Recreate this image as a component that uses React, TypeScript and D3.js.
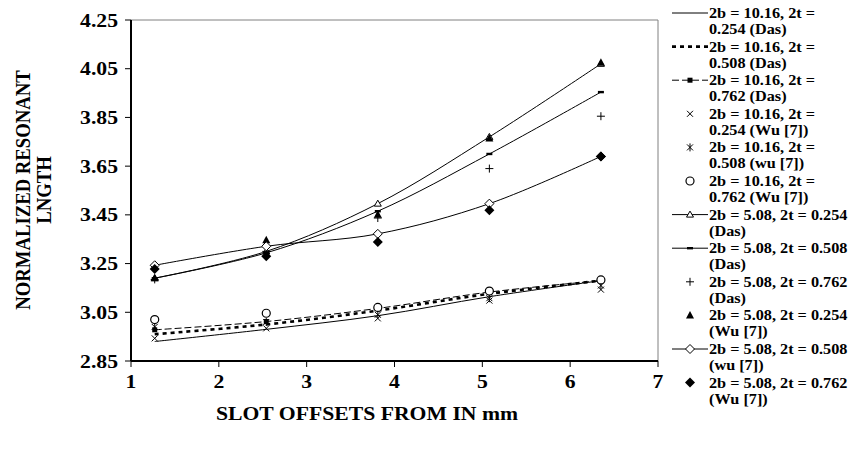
import React from "react";
import * as d3 from "d3";

// slot offsets (mm)
const slotOffsets = [1.27, 2.54, 3.81, 5.08, 6.35];

// 2b = 10.16
const w10t254Das = [2.93, 2.98, 3.036, 3.114, 3.18];
const w10t508Das = [2.96, 3.0, 3.057, 3.126, 3.18];
const w10t762Das = [2.978, 3.012, 3.066, 3.133, 3.18];
const w10t254Wu = [2.943, 2.984, 3.025, 3.098, 3.143];
const w10t508Wu = [2.99, 3.01, 3.04, 3.108, 3.16];
const w10t762Wu = [3.02, 3.046, 3.07, 3.137, 3.183];

// 2b = 5.08
const w5t254Das = [3.19, 3.3, 3.496, 3.77, 4.07];
const w5t508Das = [3.19, 3.294, 3.465, 3.7, 3.954];
const w5t762Das = [3.185, 3.3, 3.437, 3.64, 3.855];
const w5t254Wu = [3.19, 3.346, 3.45, 3.763, 4.074];
const w5t508Wu = [3.243, 3.321, 3.372, 3.496, 3.69];
const w5t762Wu = [3.228, 3.28, 3.339, 3.469, 3.69];

const yTickLabels = ["2.85", "3.05", "3.25", "3.45", "3.65", "3.85", "4.05", "4.25"];
const xTickLabels = ["1", "2", "3", "4", "5", "6", "7"];

const legendTop = [
  "2b = 10.16, 2t =", "2b = 10.16, 2t =", "2b = 10.16, 2t =",
  "2b = 10.16, 2t =", "2b = 10.16, 2t =", "2b = 10.16, 2t =",
  "2b = 5.08, 2t = 0.254", "2b = 5.08, 2t = 0.508", "2b = 5.08, 2t = 0.762",
  "2b = 5.08, 2t = 0.254", "2b = 5.08, 2t = 0.508", "2b = 5.08, 2t = 0.762",
];
const legendBottom = [
  "0.254 (Das)", "0.508 (Das)", "0.762 (Das)",
  "0.254 (Wu [7])", "0.508 (wu [7])", "0.762 (Wu [7])",
  "(Das)", "(Das)", "(Das)", "(Wu [7])", "(wu [7])", "(Wu [7])",
];

type Series = { values: number[]; line: string | null; marker: string };

const series: Series[] = [
  { values: w10t254Das, line: "solid", marker: "none" },
  { values: w10t508Das, line: "dots", marker: "none" },
  { values: w10t762Das, line: "dash", marker: "square" },
  { values: w10t254Wu, line: null, marker: "x" },
  { values: w10t508Wu, line: null, marker: "star" },
  { values: w10t762Wu, line: null, marker: "circle" },
  { values: w5t254Das, line: "solid", marker: "triOpen" },
  { values: w5t508Das, line: "solid", marker: "bar" },
  { values: w5t762Das, line: null, marker: "plus" },
  { values: w5t254Wu, line: null, marker: "triFilled" },
  { values: w5t508Wu, line: "solid", marker: "diaOpen" },
  { values: w5t762Wu, line: null, marker: "diaFilled" },
];

const FONT = "'Liberation Serif', 'Times New Roman', serif";
// the original picture is a little wider than tall, text included
const SX = 1.16;

function SText(props: {
  x: number;
  y: number;
  size: number;
  anchor?: string;
  rotate?: number;
  children: React.ReactNode;
}) {
  const { x, y, size, anchor, rotate, children } = props;
  return (
    <text
      transform={`translate(${x},${y}) scale(${SX},1)${rotate ? ` rotate(${rotate})` : ""}`}
      textAnchor={anchor || "start"}
      fontFamily={FONT}
      fontWeight="bold"
      fontSize={size}
      fill="#000"
    >
      {children}
    </text>
  );
}

function Marker({ kind, x, y }: { kind: string; x: number; y: number }) {
  const k = "#000";
  switch (kind) {
    case "square":
      return <rect x={x - 2.5} y={y - 2.5} width={5} height={5} fill={k} />;
    case "x":
      return (
        <path d={`M${x - 3},${y - 3}L${x + 3},${y + 3}M${x - 3},${y + 3}L${x + 3},${y - 3}`} stroke={k} strokeWidth={1} />
      );
    case "star":
      return (
        <path
          d={`M${x - 3},${y - 3}L${x + 3},${y + 3}M${x - 3},${y + 3}L${x + 3},${y - 3}M${x},${y - 4}L${x},${y + 4}`}
          stroke={k}
          strokeWidth={1}
        />
      );
    case "circle":
      return <circle cx={x} cy={y} r={4} fill="#fff" stroke={k} strokeWidth={1.2} />;
    case "triOpen":
      return <path d={`M${x},${y - 3.5}L${x + 3.5},${y + 2.5}L${x - 3.5},${y + 2.5}Z`} fill="#fff" stroke={k} strokeWidth={1} />;
    case "bar":
      return <rect x={x - 3} y={y - 1.2} width={6} height={2.4} fill={k} />;
    case "plus":
      return <path d={`M${x - 4},${y}L${x + 4},${y}M${x},${y - 4}L${x},${y + 4}`} stroke={k} strokeWidth={1} />;
    case "triFilled":
      return <path d={`M${x},${y - 4.5}L${x + 4},${y + 3}L${x - 4},${y + 3}Z`} fill={k} />;
    case "diaOpen":
      return <path d={`M${x},${y - 4.5}L${x + 4.5},${y}L${x},${y + 4.5}L${x - 4.5},${y}Z`} fill="#fff" stroke={k} strokeWidth={1} />;
    case "diaFilled":
      return <path d={`M${x},${y - 5}L${x + 5},${y}L${x},${y + 5}L${x - 5},${y}Z`} fill={k} />;
    default:
      return null;
  }
}

function lineStyle(kind: string | null) {
  if (kind === "dots") return { strokeWidth: 2.6, strokeDasharray: "4,4" };
  if (kind === "dash") return { strokeWidth: 1, strokeDasharray: "7,3" };
  return { strokeWidth: 1, strokeDasharray: undefined };
}

export default function App() {
  const margin = { top: 20, left: 131, right: 658, bottom: 361 };

  const x = d3.scaleLinear().domain([1, 7]).range([margin.left, margin.right]);
  const y = d3.scaleLinear().domain([2.85, 4.25]).range([margin.bottom, margin.top]);

  const line = d3
    .line<number>()
    .x((d, i) => x(slotOffsets[i]))
    .y((d) => y(d))
    .curve(d3.curveCatmullRom.alpha(0.5));

  const legX = 672;
  const legTextX = 709;

  return (
    <svg width={848} height={461} style={{ position: "absolute", left: 0, top: 0, background: "#fff" }}>
      {/* plot area border (top / right) */}
      <path
        d={`M${margin.left},${margin.top}L${margin.right},${margin.top}L${margin.right},${margin.bottom}`}
        fill="none"
        stroke="#808080"
        strokeWidth={1}
      />

      {/* y axis */}
      <line x1={margin.left} x2={margin.left} y1={margin.top} y2={margin.bottom} stroke="#000" strokeWidth={2} />
      {yTickLabels.map((t) => (
        <g key={"yt" + t}>
          <line x1={margin.left - 6} x2={margin.left} y1={y(+t)} y2={y(+t)} stroke="#000" strokeWidth={1} />
          <SText x={margin.left - 13} y={y(+t) + 6.5} size={18.7} anchor="end">
            {t}
          </SText>
        </g>
      ))}

      {/* x axis */}
      <line x1={margin.left} x2={margin.right} y1={margin.bottom} y2={margin.bottom} stroke="#000" strokeWidth={2} />
      {xTickLabels.map((t) => (
        <g key={"xt" + t}>
          <line x1={x(+t)} x2={x(+t)} y1={margin.bottom} y2={margin.bottom + 6} stroke="#000" strokeWidth={1} />
          <SText x={x(+t)} y={388} size={18.7} anchor="middle">
            {t}
          </SText>
        </g>
      ))}

      {series.map((s, si) =>
        s.line ? (
          <path
            key={"l" + si}
            d={line(s.values) || ""}
            fill="none"
            stroke="#000"
            {...lineStyle(s.line)}
          />
        ) : null
      )}
      {series.map((s, si) =>
        s.values.map((v, i) => <Marker key={si + "-" + i} kind={s.marker} x={x(slotOffsets[i])} y={y(v)} />)
      )}

      {/* axis titles */}
      <SText x={30} y={190} size={18.7} anchor="middle" rotate={-90}>
        NORMALIZED RESONANT
      </SText>
      <SText x={51} y={190} size={18.7} anchor="middle" rotate={-90}>
        LNGTH
      </SText>
      <SText x={367} y={420} size={18.7} anchor="middle">
        SLOT OFFSETS FROM IN mm
      </SText>

      {/* legend */}
      {series.map((s, i) => {
        const cy = 13 + i * 33.6;
        const ls = lineStyle(s.line);
        return (
          <g key={"lg" + i}>
            {s.line ? <line x1={legX} x2={legX + 36} y1={cy} y2={cy} stroke="#000" {...ls} /> : null}
            <Marker kind={s.marker} x={legX + 18} y={cy} />
            <SText x={legTextX} y={cy + 5} size={14}>
              {legendTop[i]}
            </SText>
            <SText x={legTextX} y={cy + 21} size={14}>
              {legendBottom[i]}
            </SText>
          </g>
        );
      })}
    </svg>
  );
}
